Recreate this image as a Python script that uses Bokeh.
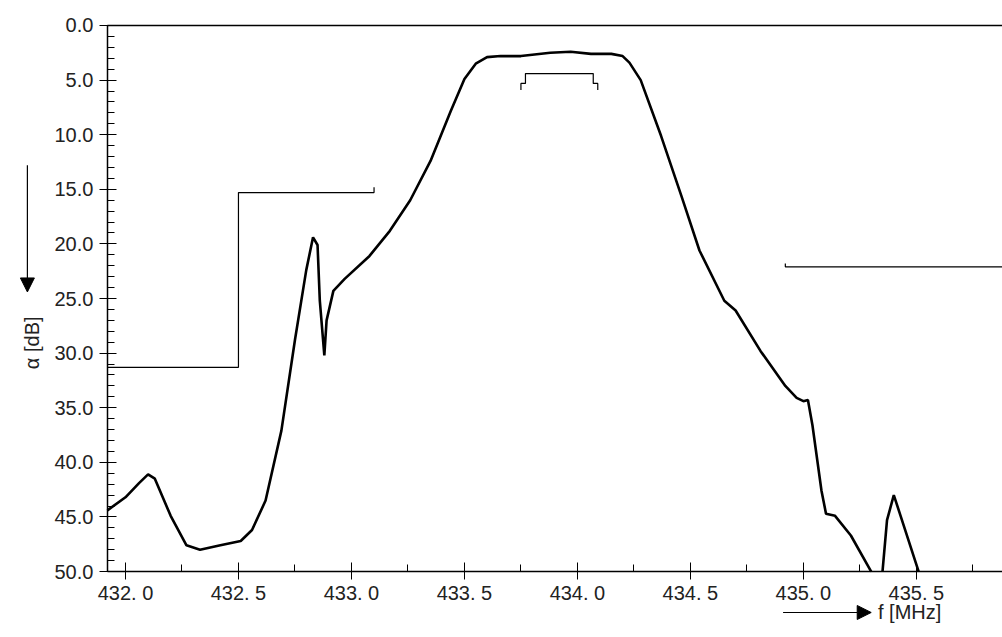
from bokeh.plotting import figure
from bokeh.models import Range1d, FixedTicker, Label, Arrow, NormalHead, PrintfTickFormatter
from bokeh.embed import file_html
from bokeh.resources import INLINE

nan = float("nan")

# measured attenuation curve
freq = [431.92, 432.0, 432.06, 432.10, 432.13, 432.20, 432.27, 432.33, 432.42, 432.51, 432.56,
        432.62, 432.69, 432.75, 432.80, 432.83, 432.85, 432.86, 432.88, 432.89, 432.92,
        432.97, 433.08, 433.17, 433.26, 433.35, 433.44, 433.50, 433.55, 433.60, 433.66, 433.75, 433.88,
        433.97, 434.06, 434.15, 434.20, 434.23, 434.28, 434.37, 434.46, 434.54, 434.65, 434.70,
        434.81, 434.92, 434.97, 435.00, 435.02, 435.04, 435.08, 435.10, 435.14, 435.21, 435.30,
        435.32,
        435.35, 435.37, 435.40, 435.43, 435.51]
atten = [44.4, 43.2, 41.9, 41.1, 41.5, 44.9, 47.6, 48.0, 47.6, 47.2, 46.2,
         43.5, 37.1, 28.8, 22.4, 19.4, 20.1, 25.2, 30.2, 27.0, 24.3,
         23.2, 21.1, 18.8, 16.0, 12.4, 7.8, 4.9, 3.5, 2.9, 2.8, 2.8, 2.5,
         2.4, 2.6, 2.6, 2.8, 3.4, 5.0, 10.1, 15.6, 20.6, 25.2, 26.1,
         29.8, 33.0, 34.1, 34.4, 34.3, 36.6, 42.6, 44.7, 44.9, 46.7, 50.0,
         nan,
         50.0, 45.3, 43.0, 44.9, 50.0]

# tolerance masks
mask_lo_f = [431.92, 432.5, 432.5, 433.10, 433.10]
mask_lo_a = [31.3, 31.3, 15.3, 15.3, 14.8]
mask_hi_f = [434.92, 434.92, 435.881]
mask_hi_a = [21.8, 22.1, 22.1]
mask_pb_f = [433.75, 433.75, 433.77, 433.77, 434.07, 434.07, 434.09, 434.09]
mask_pb_a = [5.9, 5.3, 5.3, 4.4, 4.4, 5.3, 5.3, 5.9]

x_ticks = [432.0, 432.5, 433.0, 433.5, 434.0, 434.5, 435.0, 435.5]
x_labels = ["432. 0", "432. 5", "433. 0", "433. 5", "434. 0", "434. 5", "435. 0", "435. 5"]
y_ticks = [0, 5, 10, 15, 20, 25, 30, 35, 40, 45, 50]

f_min, f_max = 431.92, 435.881
font = "Liberation Sans"

p = figure(width=1002, height=637, output_backend="svg", toolbar_location=None,
           x_range=Range1d(431.447, f_max), y_range=Range1d(56.04, -2.289),
           min_border=0)
p.outline_line_color = None
p.grid.visible = False

p.xaxis.fixed_location = 50
p.yaxis.fixed_location = f_min
p.xaxis.bounds = (f_min, f_max)
p.yaxis.bounds = (0, 50)
p.xaxis.ticker = FixedTicker(ticks=x_ticks, minor_ticks=[432.0 + 0.25 * i for i in range(16)])
p.xaxis.major_label_overrides = dict(zip(x_ticks, x_labels))
p.yaxis.ticker = FixedTicker(ticks=y_ticks, minor_ticks=list(range(51)))
p.yaxis.formatter = PrintfTickFormatter(format="%.1f")
for ax in (p.xaxis, p.yaxis):
    ax.axis_line_color = "black"
    ax.axis_line_width = 1.5
    ax.major_tick_in = 9
    ax.major_tick_out = 8
    ax.minor_tick_in = 7
    ax.minor_tick_out = 0
    ax.major_tick_line_color = "black"
    ax.minor_tick_line_color = "black"
    ax.major_label_text_font = font
    ax.major_label_text_font_size = "20px"
    ax.major_label_text_color = "#222222"
p.xaxis.major_label_standoff = 2
p.yaxis.major_label_standoff = 6

p.line([f_min, f_max], [0, 0], line_color="black", line_width=1.5)
p.line(mask_lo_f, mask_lo_a, line_color="black", line_width=1.2)
p.line(mask_hi_f, mask_hi_a, line_color="black", line_width=1.2)
p.line(mask_pb_f, mask_pb_a, line_color="black", line_width=1.2)
p.line(freq, atten, line_color="black", line_width=2.6)

# axis captions with arrows
p.add_layout(Label(x=431.585, y=28.8, text="α  [dB]", angle=1.5708, text_align="center",
                   text_baseline="middle", text_font=font, text_font_size="20px", text_color="#222222"))
p.add_layout(Arrow(x_start=431.566, y_start=12.8, x_end=431.566, y_end=24.4, line_width=1.2,
                   end=NormalHead(size=14, fill_color="black", line_color="black")))
p.add_layout(Label(x=435.33, y=53.7, text="f  [MHz]", text_baseline="middle",
                   text_font=font, text_font_size="20px", text_color="#222222"))
p.add_layout(Arrow(x_start=434.91, y_start=53.75, x_end=435.30, y_end=53.75, line_width=1.2,
                   end=NormalHead(size=14, fill_color="black", line_color="black")))

open("out.html", "w").write(file_html(p, INLINE))
